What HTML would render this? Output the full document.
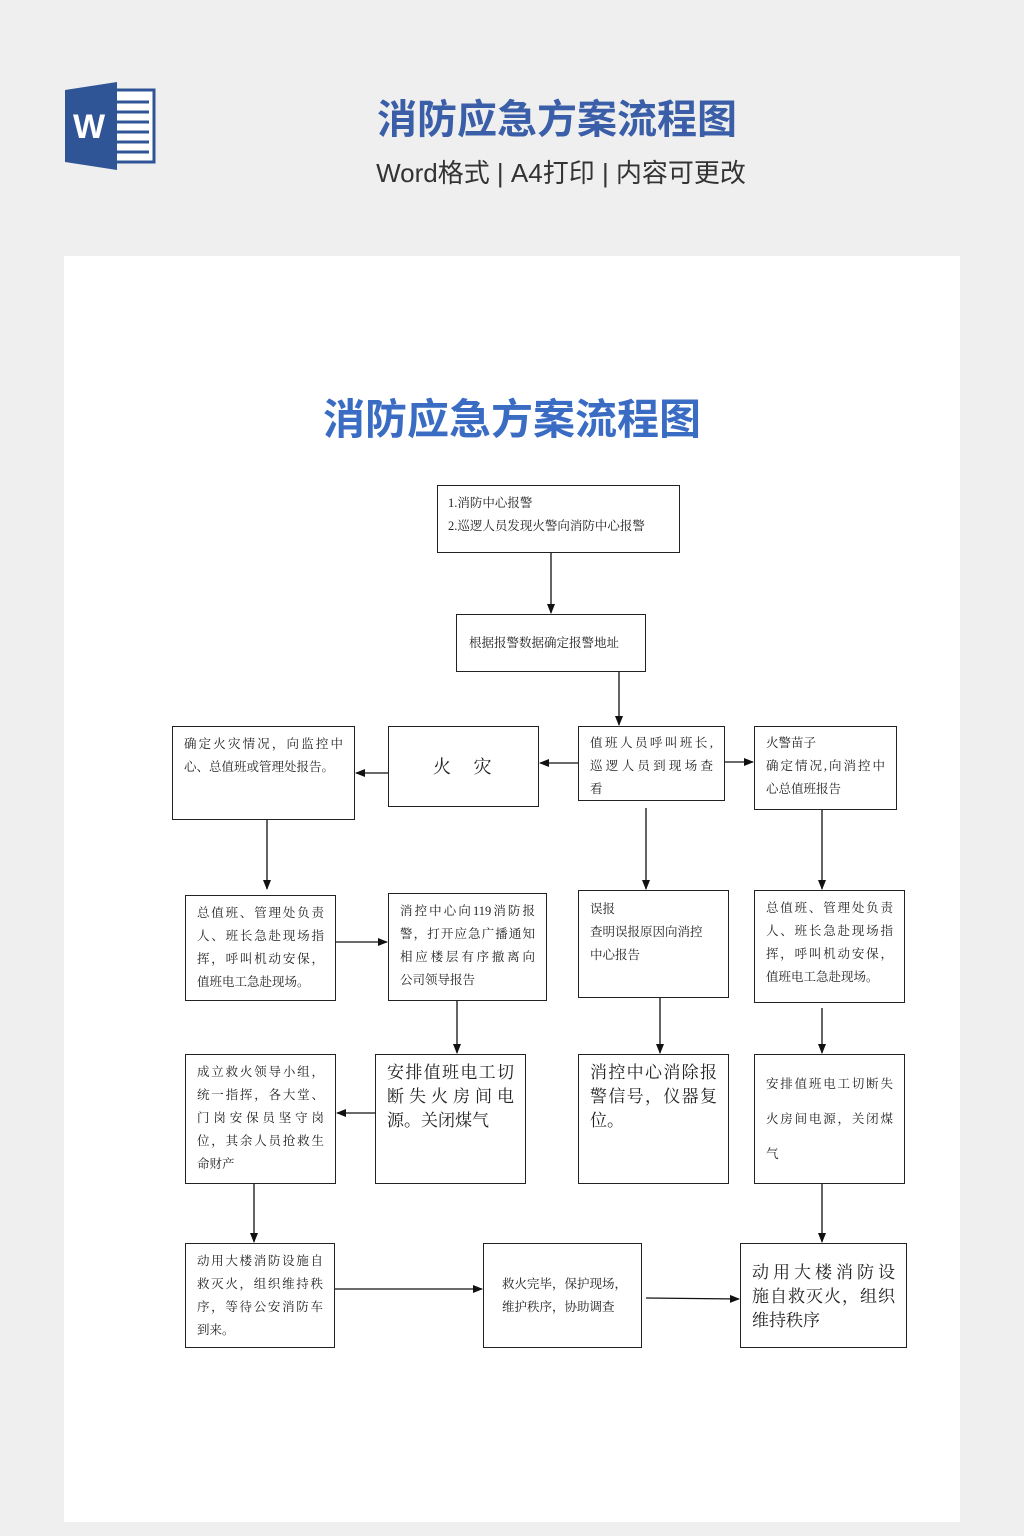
<!DOCTYPE html>
<html><head><meta charset="utf-8"><style>
body{margin:0;width:1024px;height:1536px;background:#efefef;position:relative;overflow:hidden;font-family:"Liberation Serif","Noto Serif CJK SC",serif;}
.card{position:absolute;left:64px;top:256px;width:896px;height:1266px;background:#fff;}
.b{position:absolute;border:1.3px solid #222;box-sizing:border-box;font-size:12.5px;line-height:23px;color:#222;padding:6px 11px;text-align:justify;text-align-last:justify;}
.b.l{text-align-last:left}
.b div{white-space:nowrap;text-align-last:justify;}
.b div.e{text-align-last:left}
.big{font-size:17px;line-height:24px;}
.h1{position:absolute;left:0;width:1024px;text-align:center;font-family:"Liberation Sans","Noto Sans CJK SC",sans-serif;font-weight:bold;}
</style></head><body>
<svg style="position:absolute;left:65px;top:82px" width="92" height="90">
<rect x="44" y="8" width="45" height="72" fill="#fff" stroke="#2f5597" stroke-width="3"/>
<g stroke="#2f5597" stroke-width="3"><line x1="52" y1="20" x2="84" y2="20"/><line x1="52" y1="30" x2="84" y2="30"/><line x1="52" y1="40" x2="84" y2="40"/><line x1="52" y1="50" x2="84" y2="50"/><line x1="52" y1="60" x2="84" y2="60"/><line x1="52" y1="70" x2="84" y2="70"/></g>
<polygon points="0,8 52,0 52,88 0,80" fill="#2f5597"/>
<text x="8" y="56" font-family="Liberation Sans" font-weight="bold" font-size="34" fill="#fff">W</text>
</svg>
<div class="h1" style="top:87px;left:45px;font-size:40px;color:#3a5ea8;">消防应急方案流程图</div>
<div class="h1" style="top:153px;left:49px;font-size:26px;color:#333;font-weight:normal;">Word格式 | A4打印 | 内容可更改</div>
<div class="card"></div>
<div class="h1" style="top:386px;font-size:42px;color:#3b6cc4;">消防应急方案流程图</div>
<svg style="position:absolute;left:0;top:0" width="1024" height="1536">
<defs><marker id="a" markerWidth="10" markerHeight="8" refX="9" refY="4" orient="auto" markerUnits="userSpaceOnUse"><path d="M0,0L10,4L0,8z" fill="#111"/></marker></defs>
<g stroke="#111" stroke-width="1.3" marker-end="url(#a)">
<line x1="551" y1="553" x2="551" y2="613"/>
<line x1="619" y1="672" x2="619" y2="725"/>
<line x1="578" y1="763" x2="540" y2="763"/>
<line x1="388" y1="773" x2="356" y2="773"/>
<line x1="725" y1="762" x2="753" y2="762"/>
<line x1="267" y1="820" x2="267" y2="889"/>
<line x1="646" y1="808" x2="646" y2="889"/>
<line x1="822" y1="810" x2="822" y2="889"/>
<line x1="336" y1="942" x2="387" y2="942"/>
<line x1="457" y1="1001" x2="457" y2="1053"/>
<line x1="660" y1="998" x2="660" y2="1053"/>
<line x1="822" y1="1008" x2="822" y2="1053"/>
<line x1="375" y1="1113" x2="337" y2="1113"/>
<line x1="254" y1="1184" x2="254" y2="1242"/>
<line x1="335" y1="1289" x2="482" y2="1289"/>
<line x1="646" y1="1298" x2="739" y2="1299"/>
<line x1="822" y1="1184" x2="822" y2="1242"/>
</g></svg>
<div class="b l" style="left:437px;top:485px;width:243px;height:68px;padding:6px 10px">1.消防中心报警<br>2.巡逻人员发现火警向消防中心报警</div>
<div class="b l" style="left:456px;top:614px;width:190px;height:58px;padding:17px 12px">根据报警数据确定报警地址</div>
<div class="b" style="left:172px;top:726px;width:183px;height:94px"><div>确定火灾情况，向监控中</div><div class="e">心、总值班或管理处报告。</div></div>
<div class="b l" style="left:388px;top:726px;width:151px;height:81px;font-size:18px;padding:29px 0 0 44px">火&nbsp;&nbsp;&nbsp;&nbsp;&nbsp;灾</div>
<div class="b" style="left:578px;top:726px;width:147px;height:75px;padding:5px 11px"><div>值班人员呼叫班长,</div><div>巡逻人员到现场查</div><div class="e">看</div></div>
<div class="b" style="left:754px;top:726px;width:143px;height:84px;padding:5px 11px"><div class="e">火警苗子</div><div>确定情况,向消控中</div><div class="e">心总值班报告</div></div>
<div class="b" style="left:185px;top:895px;width:151px;height:106px;padding:6px 11px"><div>总值班、管理处负责</div><div>人、班长急赴现场指</div><div>挥，呼叫机动安保，</div><div class="e">值班电工急赴现场。</div></div>
<div class="b" style="left:388px;top:893px;width:159px;height:108px;padding:6px 11px"><div>消控中心向119消防报</div><div>警，打开应急广播通知</div><div>相应楼层有序撤离向</div><div class="e">公司领导报告</div></div>
<div class="b l" style="left:578px;top:890px;width:151px;height:108px;padding:7px 11px">误报<br>查明误报原因向消控<br>中心报告</div>
<div class="b" style="left:754px;top:890px;width:151px;height:113px;padding:6px 11px"><div>总值班、管理处负责</div><div>人、班长急赴现场指</div><div>挥，呼叫机动安保，</div><div class="e">值班电工急赴现场。</div></div>
<div class="b" style="left:185px;top:1054px;width:151px;height:130px;padding:6px 11px"><div>成立救火领导小组，</div><div>统一指挥，各大堂、</div><div>门岗安保员坚守岗</div><div>位，其余人员抢救生</div><div class="e">命财产</div></div>
<div class="b big" style="left:375px;top:1054px;width:151px;height:130px;padding:6px 11px"><div>安排值班电工切</div><div>断失火房间电</div><div class="e">源。关闭煤气</div></div>
<div class="b big" style="left:578px;top:1054px;width:151px;height:130px;padding:6px 11px"><div>消控中心消除报</div><div>警信号，仪器复</div><div class="e">位。</div></div>
<div class="b" style="left:754px;top:1054px;width:151px;height:130px;padding:12px 11px;line-height:35px"><div>安排值班电工切断失</div><div>火房间电源，关闭煤</div><div class="e">气</div></div>
<div class="b" style="left:185px;top:1243px;width:150px;height:105px;padding:6px 11px"><div>动用大楼消防设施自</div><div>救灭火，组织维持秩</div><div>序，等待公安消防车</div><div class="e">到来。</div></div>
<div class="b" style="left:483px;top:1243px;width:159px;height:105px;padding:29px 10px 0 18px"><div class="e">救火完毕，保护现场，</div><div class="e">维护秩序，协助调查</div></div>
<div class="b big" style="left:740px;top:1243px;width:167px;height:105px;padding:17px 11px"><div>动用大楼消防设</div><div>施自救灭火，组织</div><div class="e">维持秩序</div></div>
</body></html>
